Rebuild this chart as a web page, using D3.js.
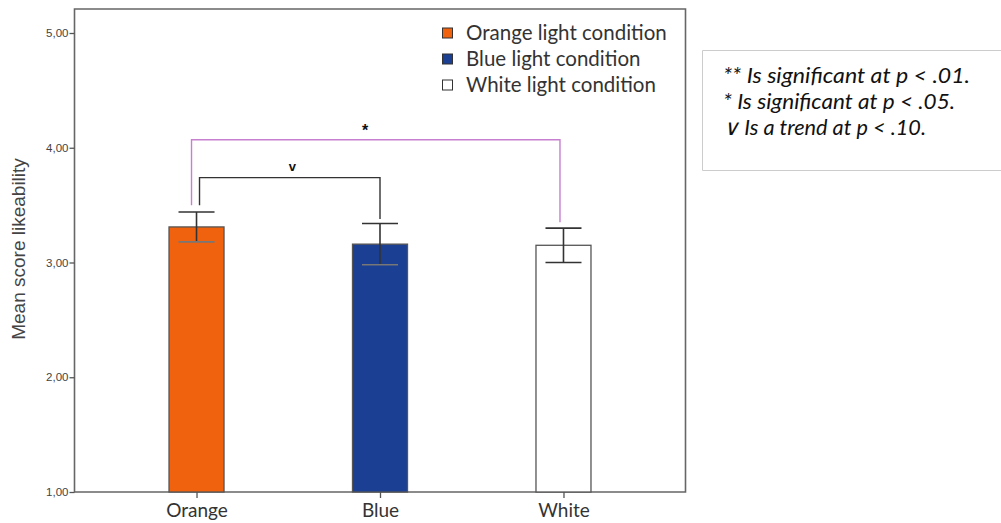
<!DOCTYPE html>
<html>
<head>
<meta charset="utf-8">
<script src="https://cdn.jsdelivr.net/npm/d3@7"></script>
<style>
  body { margin: 0; background: #fff; }
  svg { display: block; }
</style>
</head>
<body>
<div id="chart"></div>
<script>

// data
var categories = ["Orange", "Blue", "White"];
var means = [3.31, 3.16, 3.15];
var ciUpper = [3.44, 3.34, 3.30];
var ciLower = [3.18, 2.98, 3.00];
var legendLabels = ["Orange light condition", "Blue light condition", "White light condition"];
var yTicks = [1, 2, 3, 4, 5];
var noteLines = ["** Is significant at p < .01.", "* Is significant at p < .05.", "\u2228 Is a trend at p < .10."];
var noteWidths = [247, 232, 203];

// brackets: from / to category, label, top value, left and right leg end values
var brackets = [
  { from: "Orange", to: "White", label: "*", top: 4.07, leftEnd: 3.5, rightEnd: 3.35, color: "#c77fd0" },
  { from: "Orange", to: "Blue", label: "v", top: 3.74, leftEnd: 3.5, rightEnd: 3.38, color: "#333333" }
];

var fills = ["#f0620d", "#1b3f93", "#ffffff"];

var W = 1001, H = 523;
var frame = { left: 74.5, right: 685.5, top: 9, bottom: 492 };

var svg = d3.select("#chart").append("svg")
  .attr("width", W)
  .attr("height", H);

var x = d3.scalePoint()
  .domain(categories)
  .range([frame.left, frame.right])
  .padding(0.665);

var y = d3.scaleLinear()
  .domain([1, 5])
  .range([492, 33]);

var barW = 55;
var capW = 36;

//--------------------------------------
// frame
//--------------------------------------

svg.append("path")
  .attr("d", "M" + frame.left + "," + frame.bottom + "V" + frame.top + "H" + frame.right + "V" + frame.bottom + "Z")
  .attr("fill", "none")
  .attr("stroke", "#666")
  .attr("stroke-width", 1.6);

// y axis
var yAxis = d3.axisLeft(y)
  .tickValues(yTicks)
  .tickSize(5)
  .tickFormat(function (d) { return d3.format(".2f")(d).replace(".", ","); });

var gy = svg.append("g")
  .attr("transform", "translate(" + frame.left + ",0)")
  .call(yAxis);
gy.select(".domain").remove();
gy.selectAll(".tick line").attr("stroke", "#555").attr("stroke-width", 1.3);
gy.selectAll(".tick text")
  .attr("font-family", "Liberation Sans, Arial, sans-serif")
  .attr("font-size", 11.5)
  .attr("fill", "#444")
  .attr("x", -6);

// x axis
var xAxis = d3.axisBottom(x).tickSize(6).tickSizeOuter(0);
var gx = svg.append("g")
  .attr("transform", "translate(0," + frame.bottom + ")")
  .call(xAxis);
gx.select(".domain").remove();
gx.selectAll(".tick line").attr("stroke", "#555").attr("stroke-width", 1.3);
gx.selectAll(".tick text")
  .attr("font-family", "Lato, sans-serif")
  .attr("font-size", 19)
  .attr("fill", "#333")
  .attr("y", 12);

// y label
svg.append("text")
  .attr("transform", "translate(25,249) rotate(-90)")
  .attr("text-anchor", "middle")
  .attr("font-family", "Liberation Sans, Arial, sans-serif")
  .attr("font-size", 19)
  .attr("fill", "#444")
  .text("Mean score likeability");

//--------------------------------------
// bars
//--------------------------------------

svg.selectAll("rect.bar")
  .data(categories)
  .enter().append("rect")
  .attr("class", "bar")
  .attr("x", function (d) { return x(d) - barW / 2; })
  .attr("y", function (d, i) { return y(means[i]); })
  .attr("width", barW)
  .attr("height", function (d, i) { return y(1) - y(means[i]); })
  .attr("fill", function (d, i) { return fills[i]; })
  .attr("stroke", "#555")
  .attr("stroke-width", 1.3);

// error bars
var eb = svg.selectAll("g.eb")
  .data(categories)
  .enter().append("g")
  .attr("class", "eb");

eb.append("line")
  .attr("x1", function (d) { return x(d); })
  .attr("x2", function (d) { return x(d); })
  .attr("y1", function (d, i) { return y(ciUpper[i]); })
  .attr("y2", function (d, i) { return y(ciLower[i]); })
  .attr("stroke", "#333")
  .attr("stroke-width", 1.6);

eb.append("line")
  .attr("x1", function (d) { return x(d) - capW / 2; })
  .attr("x2", function (d) { return x(d) + capW / 2; })
  .attr("y1", function (d, i) { return y(ciUpper[i]); })
  .attr("y2", function (d, i) { return y(ciUpper[i]); })
  .attr("stroke", "#333")
  .attr("stroke-width", 1.6);

eb.append("line")
  .attr("x1", function (d) { return x(d) - capW / 2; })
  .attr("x2", function (d) { return x(d) + capW / 2; })
  .attr("y1", function (d, i) { return y(ciLower[i]); })
  .attr("y2", function (d, i) { return y(ciLower[i]); })
  .attr("stroke", function (d, i) { return i < 2 ? "#777" : "#333"; })
  .attr("stroke-width", 1.6);

//--------------------------------------
// significance brackets
//--------------------------------------

brackets.forEach(function (b, i) {
  var x1 = x(b.from) + (i === 0 ? -5 : 3);
  var x2 = x(b.to) + (i === 0 ? -3.5 : 0);
  svg.append("path")
    .attr("d", "M" + x1 + "," + y(b.leftEnd) + "V" + y(b.top) + "H" + x2 + "V" + y(b.rightEnd))
    .attr("fill", "none")
    .attr("stroke", b.color)
    .attr("stroke-width", 1.4);
  svg.append("text")
    .attr("x", (x(b.from) + x(b.to)) / 2 + (i === 0 ? -15 : 4))
    .attr("y", y(b.top) - (i === 0 ? 4 : 7))
    .attr("text-anchor", "middle")
    .attr("font-family", "Liberation Sans, Arial, sans-serif")
    .attr("font-weight", "bold")
    .attr("font-size", i === 0 ? 16 : 13)
    .attr("fill", "#111")
    .text(b.label);
});

//--------------------------------------
// legend
//--------------------------------------

var legend = svg.append("g")
  .attr("transform", "translate(442,0)");

legendLabels.forEach(function (lab, i) {
  var cy = 33 + i * 26;
  legend.append("rect")
    .attr("x", 0.5)
    .attr("y", cy - 5)
    .attr("width", 10)
    .attr("height", 10)
    .attr("fill", fills[i])
    .attr("stroke", "#333")
    .attr("stroke-width", 1);
  legend.append("text")
    .attr("x", 24)
    .attr("y", cy + 6.5)
    .attr("font-family", "Lato, sans-serif")
    .attr("font-size", 20.5)
    .attr("fill", "#333")
    .text(lab);
});

//--------------------------------------
// note box
//--------------------------------------

svg.append("path")
  .attr("d", "M1001,50.5H702.5V170.5H1001")
  .attr("fill", "none")
  .attr("stroke", "#ccc")
  .attr("stroke-width", 1);

noteLines.forEach(function (t, i) {
  svg.append("text")
    .attr("x", 723)
    .attr("y", 83 + i * 26)
    .attr("font-family", "Lato, sans-serif")
    .attr("font-style", "italic")
    .attr("font-size", 21.5)
    .attr("textLength", noteWidths[i])
    .attr("lengthAdjust", "spacingAndGlyphs")
    .attr("fill", "#111")
    .text(t);
});

</script>
</body>
</html>
